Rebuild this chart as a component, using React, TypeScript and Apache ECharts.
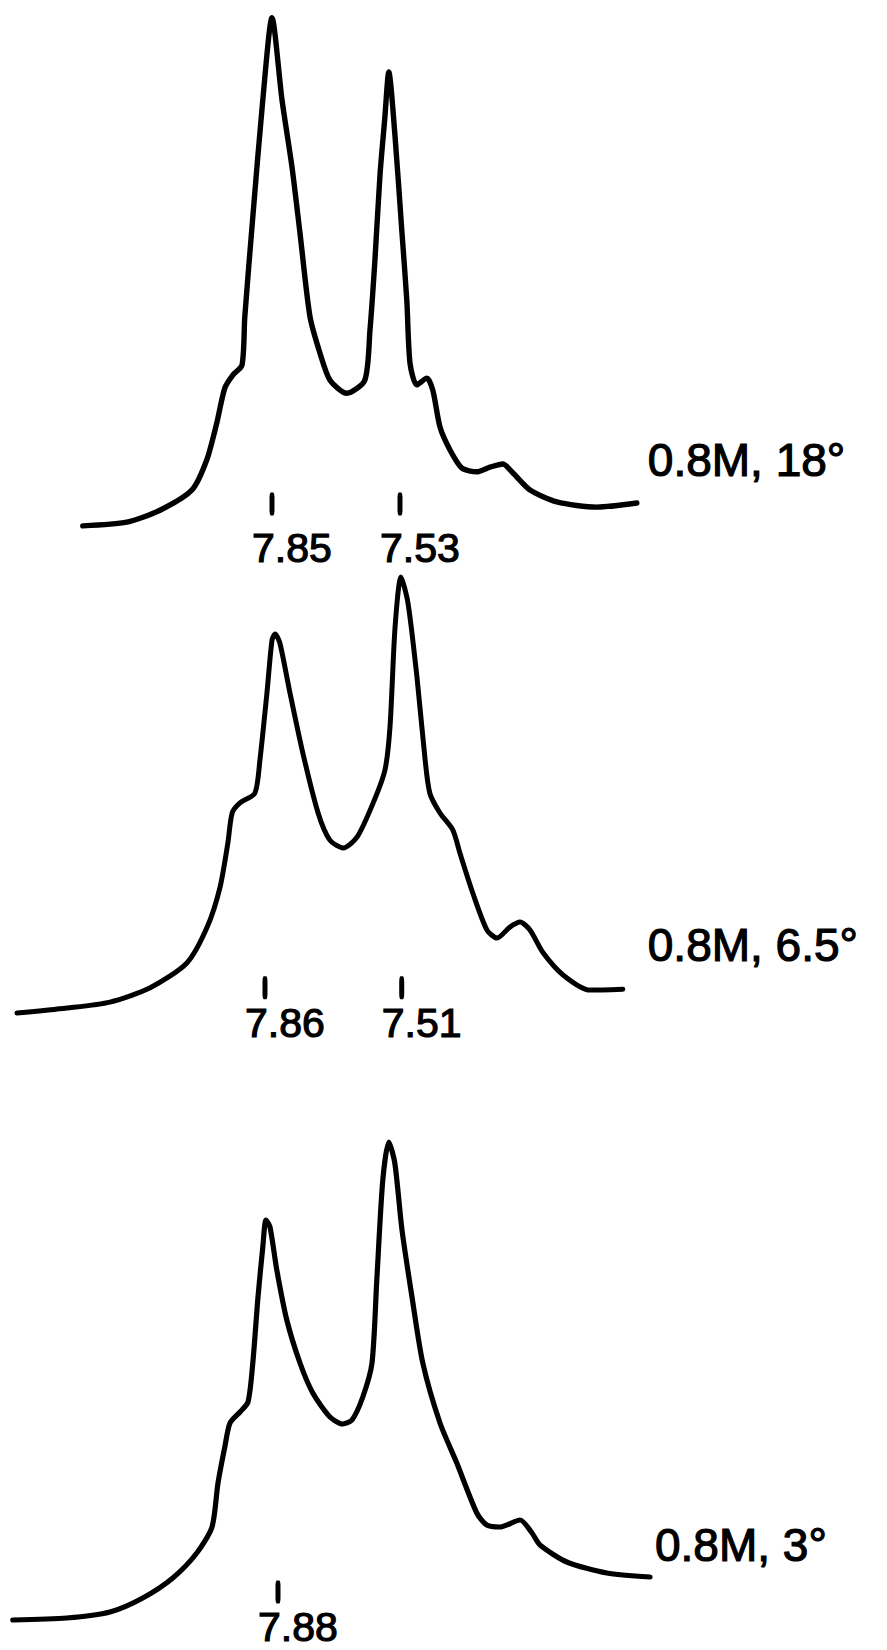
import React, { useEffect, useRef } from "react";
import * as echarts from "echarts";

// Chemical shift (ppm) and relative intensity of each trace
const PPM_1 = [8.323, 8.213, 8.13, 8.05, 8.013, 7.988, 7.968, 7.948, 7.925, 7.918, 7.898, 7.873, 7.85, 7.825, 7.8, 7.78, 7.755, 7.73, 7.705, 7.663, 7.618, 7.605, 7.593, 7.58, 7.568, 7.558, 7.543, 7.525, 7.513, 7.505, 7.488, 7.463, 7.448, 7.43, 7.405, 7.375, 7.338, 7.305, 7.273, 7.248, 7.205, 7.138, 7.038, 6.938];
const INT_1 = [0.8, 1.5, 3.8, 7.7, 13.5, 20.6, 27.3, 29.8, 31.7, 41.0, 60.2, 82.7, 98.5, 82.7, 69.8, 57.1, 41.0, 34.0, 28.8, 26.3, 28.8, 38.5, 51.5, 68.3, 79.2, 88.1, 76.3, 57.1, 44.2, 32.1, 27.9, 29.2, 26.9, 19.8, 15.4, 11.9, 11.2, 12.1, 12.7, 11.0, 7.7, 5.4, 4.4, 5.2];

const PPM_2 = [8.495, 8.367, 8.257, 8.154, 8.06, 8.008, 7.975, 7.955, 7.944, 7.924, 7.886, 7.873, 7.855, 7.842, 7.834, 7.822, 7.796, 7.763, 7.724, 7.694, 7.66, 7.624, 7.583, 7.553, 7.54, 7.527, 7.512, 7.494, 7.471, 7.45, 7.438, 7.412, 7.379, 7.361, 7.328, 7.292, 7.266, 7.233, 7.207, 7.182, 7.148, 7.097, 7.028, 6.944];
const INT_2 = [1.5, 2.6, 3.9, 7.0, 12.4, 20.2, 28.9, 38.5, 45.0, 47.2, 49.3, 56.5, 71.1, 82.6, 83.9, 82.0, 71.1, 58.0, 45.0, 39.1, 37.4, 39.8, 47.2, 54.3, 63.7, 85.4, 96.3, 90.7, 74.6, 56.5, 49.3, 45.0, 41.3, 36.3, 27.6, 19.6, 17.8, 20.2, 21.3, 19.6, 14.6, 9.8, 6.5, 6.7];

const PPM_3 = [8.543, 8.408, 8.3, 8.218, 8.143, 8.083, 8.045, 8.03, 8.013, 8.0, 7.975, 7.955, 7.943, 7.93, 7.918, 7.91, 7.9, 7.883, 7.858, 7.825, 7.793, 7.75, 7.718, 7.695, 7.668, 7.645, 7.633, 7.618, 7.603, 7.588, 7.57, 7.545, 7.518, 7.475, 7.433, 7.383, 7.358, 7.325, 7.275, 7.245, 7.225, 7.158, 7.058, 6.95];
const INT_3 = [2.0, 2.4, 3.6, 6.4, 10.4, 15.4, 20.6, 29.4, 36.6, 41.4, 43.6, 45.6, 53.4, 66.6, 76.6, 82.0, 80.6, 72.0, 62.0, 53.4, 47.4, 42.6, 41.2, 42.0, 46.6, 53.4, 70.0, 90.0, 97.6, 93.4, 80.0, 66.6, 53.4, 41.4, 33.4, 23.4, 21.0, 20.6, 22.0, 19.4, 17.0, 13.6, 11.4, 10.6];

// Marked peak positions (ppm) under each trace
const TICKS_1 = [7.85, 7.53];
const TICK_LABELS_1 = ["7.85", "7.53"];
const TICKS_2 = [7.86, 7.51];
const TICK_LABELS_2 = ["7.86", "7.51"];
const TICKS_3 = [7.88];
const TICK_LABELS_3 = ["7.88"];

// Conditions of each spectrum
const CONDITIONS = ["0.8M, 18°", "0.8M, 6.5°", "0.8M, 3°"];

const FONT = "'Liberation Sans', Arial, sans-serif";

export default function App() {
  const ref = useRef<HTMLDivElement>(null);

  useEffect(() => {
    if (!ref.current) return;
    const chart = echarts.init(ref.current, null, { renderer: "svg" });

    const traces = [
      { ppm: PPM_1, int: INT_1, ticks: TICKS_1, labels: TICK_LABELS_1, tickY: 5.0, labDist: 17, width: 5.4, endDx: 11, endDy: -43 },
      { ppm: PPM_2, int: INT_2, ticks: TICKS_2, labels: TICK_LABELS_2, tickY: 7.0, labDist: 9, width: 5.0, endDx: 25, endDy: -44 },
      { ppm: PPM_3, int: INT_3, ticks: TICKS_3, labels: TICK_LABELS_3, tickY: 7.6, labDist: 8, width: 5.2, endDx: 5, endDy: -32 },
    ];

    const series: any[] = [];
    traces.forEach((t, i) => {
      series.push({
        type: "line",
        xAxisIndex: i,
        yAxisIndex: i,
        data: t.ppm.map((p, k) => [p, t.int[k]]),
        symbol: "none",
        showSymbol: false,
        smooth: 0.25,
        silent: true,
        lineStyle: { color: "#000", width: t.width, cap: "round", join: "round", opacity: 1 },
        endLabel: {
          show: true,
          formatter: CONDITIONS[i],
          distance: 0,
          align: "left",
          verticalAlign: "middle",
          offset: [t.endDx, t.endDy],
          color: "#000",
          fontSize: 46,
          fontFamily: FONT,
          textBorderColor: "#000",
          textBorderWidth: 1.2,
        },
      });
      series.push({
        type: "scatter",
        xAxisIndex: i,
        yAxisIndex: i,
        silent: true,
        symbol: "roundRect",
        symbolSize: [5, 23],
        itemStyle: { color: "#000", opacity: 1 },
        data: t.ticks.map((p, k) => ({ value: [p, t.tickY], name: t.labels[k] })),
        label: {
          show: true,
          position: "bottom",
          distance: t.labDist,
          align: "left",
          offset: [-20, 0],
          formatter: "{b}",
          color: "#000",
          opacity: 1,
          fontSize: 41,
          lineHeight: 30,
          fontFamily: FONT,
          textBorderColor: "#000",
          textBorderWidth: 1.2,
        },
      });
    });

    const option: any = {
      animation: false,
      backgroundColor: "#ffffff",
      grid: [
        { left: 0, width: 887, top: 10, height: 520 },
        { left: 0, width: 887, top: 560, height: 460 },
        { left: 0, width: 887, top: 1130, height: 500 },
      ],
      xAxis: [
        { type: "value", gridIndex: 0, min: 6.3125, max: 8.53, inverse: true, show: false },
        { type: "value", gridIndex: 1, min: 6.2676, max: 8.5384, inverse: true, show: false },
        { type: "value", gridIndex: 2, min: 6.3575, max: 8.575, inverse: true, show: false },
      ],
      yAxis: [
        { type: "value", gridIndex: 0, min: 0, max: 100, show: false },
        { type: "value", gridIndex: 1, min: 0, max: 100, show: false },
        { type: "value", gridIndex: 2, min: 0, max: 100, show: false },
      ],
      series,
    };

    chart.setOption(option);
    return () => chart.dispose();
  }, []);

  return (
    <div
      ref={ref}
      style={{ position: "absolute", left: 0, top: 0, width: 887, height: 1650, background: "#fff" }}
    />
  );
}
